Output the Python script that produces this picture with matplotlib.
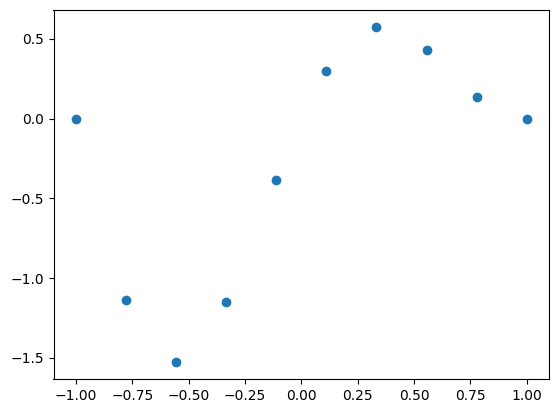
import numpy as np
import matplotlib
matplotlib.use("Agg")
import matplotlib.pyplot as plt

# values
x_vals = [-1.0, -0.778, -0.556, -0.333, -0.111, 0.111, 0.333, 0.556, 0.778, 1.0]
y_vals = [0.0, -1.140, -1.528, -1.152, -0.382, 0.301, 0.576, 0.432, 0.138, 0.0]

fig = plt.figure(figsize=(5.59, 4.13), dpi=100)
ax = fig.add_axes([53.5 / 559, 1 - 379 / 413, (549.3 - 53.5) / 559, (379 - 10) / 413])
ax.scatter(x_vals, y_vals)

fig.savefig("out.png", dpi=100)
plt.close(fig)
